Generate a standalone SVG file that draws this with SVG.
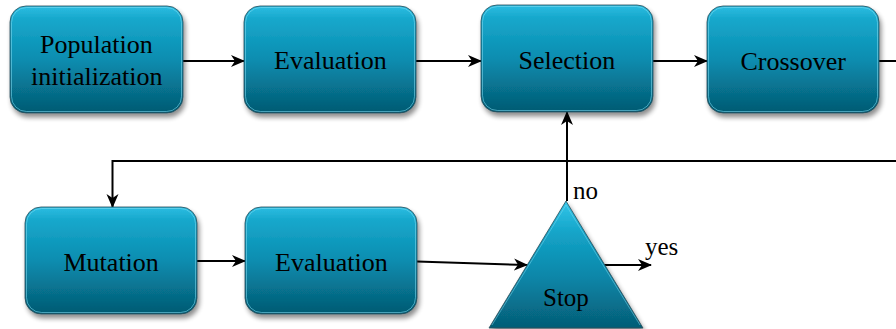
<svg xmlns="http://www.w3.org/2000/svg" width="896" height="329" viewBox="0 0 896 329">
  <defs>
    <linearGradient id="boxFill" x1="0" y1="0" x2="0" y2="1">
      <stop offset="0" stop-color="#2cbde2"/>
      <stop offset="0.12" stop-color="#17a8cc"/>
      <stop offset="0.5" stop-color="#0a8db0"/>
      <stop offset="1" stop-color="#045a72"/>
    </linearGradient>
    <linearGradient id="triFill" x1="0" y1="0" x2="0" y2="1">
      <stop offset="0" stop-color="#33c6ea"/>
      <stop offset="0.25" stop-color="#14a4c8"/>
      <stop offset="0.6" stop-color="#0a86a8"/>
      <stop offset="1" stop-color="#055d76"/>
    </linearGradient>
    <filter id="shadow" x="-10%" y="-10%" width="125%" height="130%">
      <feGaussianBlur in="SourceAlpha" stdDeviation="2.5"/>
      <feOffset dx="2" dy="4"/>
      <feComponentTransfer><feFuncA type="linear" slope="0.45"/></feComponentTransfer>
      <feMerge><feMergeNode/><feMergeNode in="SourceGraphic"/></feMerge>
    </filter>
    <marker id="arrow" viewBox="0 0 14 14" refX="13" refY="7" markerWidth="14" markerHeight="14" markerUnits="userSpaceOnUse" orient="auto">
      <path d="M0,1 L14,7 L0,13 L4,7 Z" fill="#000"/>
    </marker>
  </defs>
  <style>
    .box { fill: url(#boxFill); stroke: #2a4d58; stroke-width: 0.8; filter: url(#shadow); }
    .rim { fill: none; stroke: #7fdcf2; stroke-width: 1; opacity: 0.55; }
    .link { fill: none; stroke: #000; stroke-width: 2; }
    .t { font-family: 'Liberation Serif', serif; font-size: 26px; fill: #000; }
    .s { font-family: 'Liberation Serif', serif; font-size: 25px; fill: #000; }
  </style>

  <rect width="896" height="329" fill="#fff"/>

  <!-- connectors -->
  <g id="connectors">
    <path class="link" d="M183,61 H244" marker-end="url(#arrow)"/>
    <path class="link" d="M416,61 H481" marker-end="url(#arrow)"/>
    <path class="link" d="M653,61 H707" marker-end="url(#arrow)"/>
    <path class="link" d="M879,61 H910 V161 H112.5 V207" marker-end="url(#arrow)"/>
    <path class="link" d="M197,261 H245" marker-end="url(#arrow)"/>
    <path class="link" d="M417,261.5 L527,265" marker-end="url(#arrow)"/>
    <path class="link" d="M567,201 V112" marker-end="url(#arrow)"/>
    <path class="link" d="M603,265 H651" marker-end="url(#arrow)"/>
  </g>

  <!-- process boxes (labels placed at their left edge, centred by width) -->
  <g id="population-init">
    <rect class="box" x="10" y="6" width="173" height="107" rx="16"/>
    <rect class="rim" x="11.5" y="7.5" width="170" height="104" rx="15"/>
    <text class="t" x="40" y="53" font-family="'Liberation Serif', serif" font-size="26">Population</text>
    <text class="t" x="31" y="85" font-family="'Liberation Serif', serif" font-size="26">initialization</text>
  </g>
  <g id="evaluation-1">
    <rect class="box" x="244" y="6" width="172" height="107" rx="16"/>
    <rect class="rim" x="245.5" y="7.5" width="169" height="104" rx="15"/>
    <text class="t" x="274" y="69" font-family="'Liberation Serif', serif" font-size="26">Evaluation</text>
  </g>
  <g id="selection">
    <rect class="box" x="481" y="5" width="172" height="107" rx="16"/>
    <rect class="rim" x="482.5" y="6.5" width="169" height="104" rx="15"/>
    <text class="t" x="518.5" y="69" font-family="'Liberation Serif', serif" font-size="26">Selection</text>
  </g>
  <g id="crossover">
    <rect class="box" x="707" y="6" width="172" height="107" rx="16"/>
    <rect class="rim" x="708.5" y="7.5" width="169" height="104" rx="15"/>
    <text class="t" x="740.5" y="70" font-family="'Liberation Serif', serif" font-size="26">Crossover</text>
  </g>
  <g id="mutation">
    <rect class="box" x="25" y="207" width="172" height="107" rx="16"/>
    <rect class="rim" x="26.5" y="208.5" width="169" height="104" rx="15"/>
    <text class="t" x="63.5" y="271" font-family="'Liberation Serif', serif" font-size="26">Mutation</text>
  </g>
  <g id="evaluation-2">
    <rect class="box" x="245" y="207" width="172" height="107" rx="16"/>
    <rect class="rim" x="246.5" y="208.5" width="169" height="104" rx="15"/>
    <text class="t" x="275" y="271" font-family="'Liberation Serif', serif" font-size="26">Evaluation</text>
  </g>

  <!-- stop decision -->
  <g id="stop">
    <polygon points="566,201 489,328 643,328" fill="url(#triFill)" stroke="#2a4d58" stroke-width="0.8" filter="url(#shadow)"/>
    <polyline points="492,325 566,205 640,325" fill="none" stroke="#7fdcf2" stroke-width="1" opacity="0.5"/>
    <text class="s" x="543" y="306" font-family="'Liberation Serif', serif" font-size="25">Stop</text>
  </g>

  <!-- branch labels -->
  <text class="s" x="573" y="199" font-family="'Liberation Serif', serif" font-size="25">no</text>
  <text class="s" x="645" y="255" font-family="'Liberation Serif', serif" font-size="25">yes</text>
</svg>
